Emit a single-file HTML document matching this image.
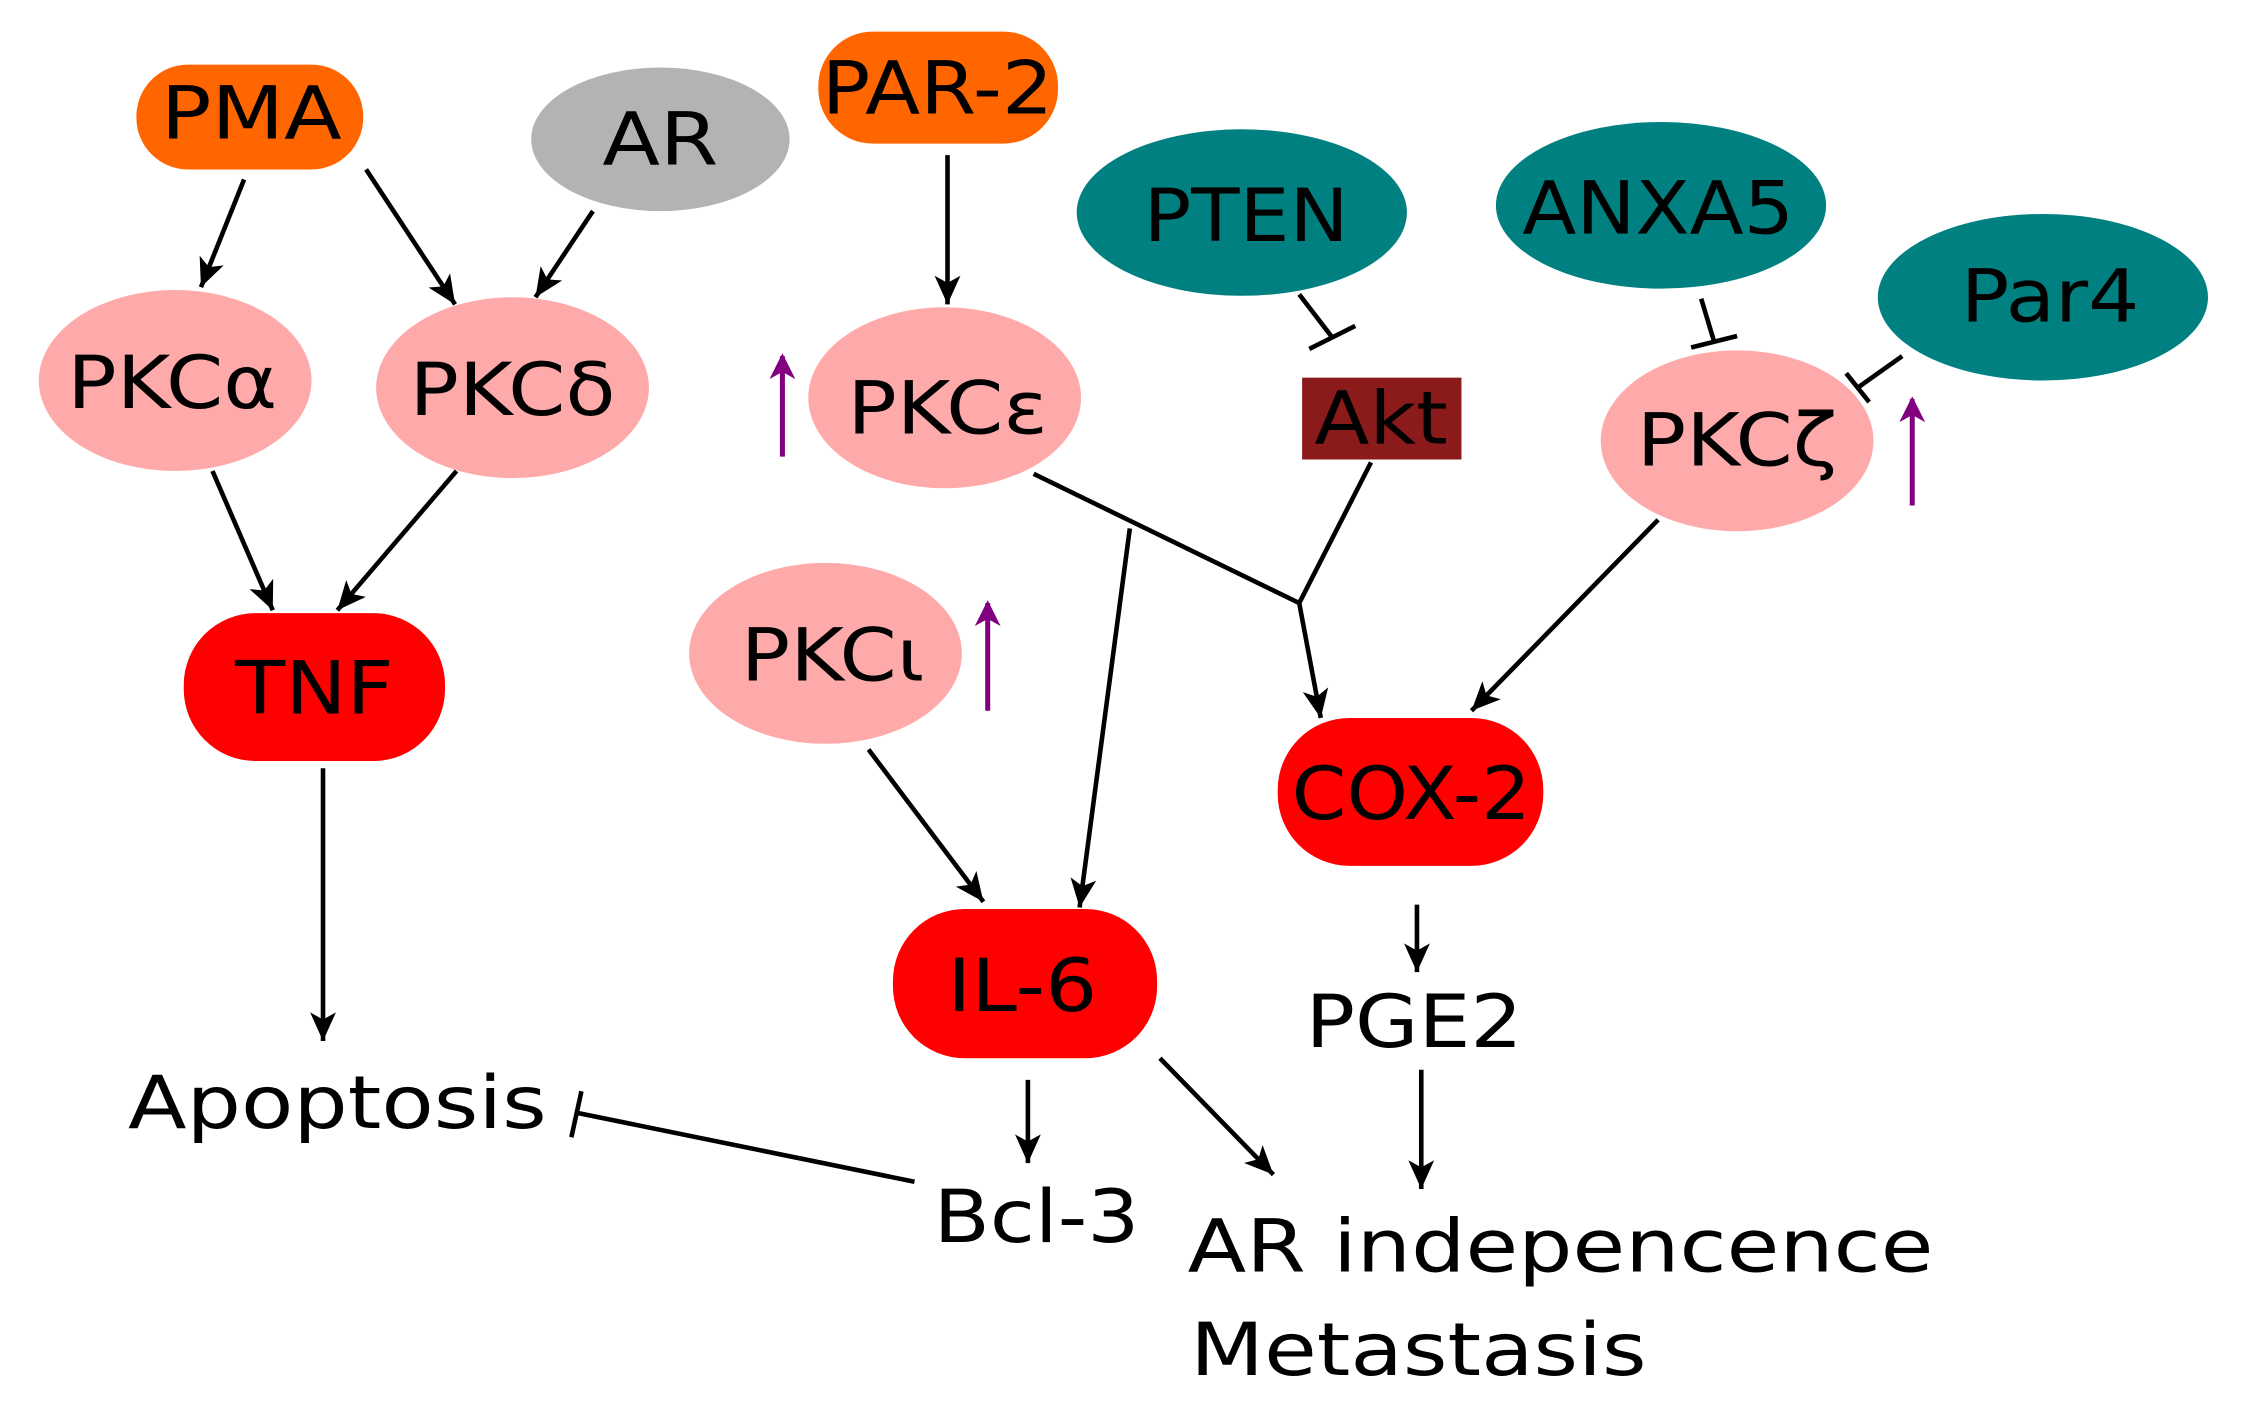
<!DOCTYPE html>
<html><head><meta charset="utf-8"><style>
html,body{margin:0;padding:0;background:#fff;}
svg{display:block;}
text{font-family:"DejaVu Sans","Liberation Sans",sans-serif;fill:#000;text-anchor:middle;dominant-baseline:central;font-size:51px;}
</style></head><body>
<svg width="2241" height="1423" viewBox="0 0 1561 991" preserveAspectRatio="none" xmlns="http://www.w3.org/2000/svg">
<defs>
<marker id="ab" markerWidth="22" markerHeight="22" refX="20" refY="11" orient="auto" markerUnits="userSpaceOnUse" viewBox="0 0 22 22">
<path d="M0,2 L20,11 L0,20 L5,11 z" fill="#000"/></marker>
<marker id="ap" markerWidth="18" markerHeight="22" refX="16" refY="9" orient="auto" markerUnits="userSpaceOnUse" viewBox="0 0 18 18">
<path d="M0,0 L18,9 L0,18 L5,9 z" fill="#800080"/></marker>
</defs>
<g stroke="#000" stroke-width="3.2" fill="none">
<line x1="170" y1="125" x2="140" y2="200" marker-end="url(#ab)"/>
<line x1="255" y1="118" x2="317" y2="212" marker-end="url(#ab)"/>
<line x1="413" y1="147" x2="373" y2="207" marker-end="url(#ab)"/>
<line x1="660" y1="108" x2="660" y2="212" marker-end="url(#ab)"/>
<line x1="148" y1="328" x2="190" y2="425" marker-end="url(#ab)"/>
<line x1="318" y1="328" x2="235" y2="425" marker-end="url(#ab)"/>
<polyline points="720,330 905,420 920,500" marker-end="url(#ab)"/>
<line x1="955" y1="322" x2="905" y2="420"/>
<line x1="787" y1="368" x2="752" y2="632" marker-end="url(#ab)"/>
<line x1="1155" y1="362" x2="1025" y2="495" marker-end="url(#ab)"/>
<line x1="605" y1="522" x2="685" y2="628" marker-end="url(#ab)"/>
<line x1="225" y1="535" x2="225" y2="725" marker-end="url(#ab)"/>
<line x1="987" y1="630" x2="987" y2="677" marker-end="url(#ab)"/>
<line x1="990" y1="745" x2="990" y2="828" marker-end="url(#ab)"/>
<line x1="716" y1="752" x2="716" y2="810" marker-end="url(#ab)"/>
<line x1="808" y1="737" x2="887" y2="818" marker-end="url(#ab)"/>
<line x1="905" y1="205" x2="928" y2="235"/><line x1="912" y1="243" x2="944" y2="227"/>
<line x1="1185" y1="208" x2="1194" y2="238"/><line x1="1178" y1="242" x2="1210" y2="234"/>
<line x1="1325" y1="248" x2="1294" y2="270"/><line x1="1286" y1="260" x2="1302" y2="280"/>
<line x1="637" y1="823" x2="402" y2="775"/><line x1="405" y1="760" x2="398" y2="792"/>
</g>
<g stroke="#800080" stroke-width="3.5">
<line x1="545" y1="318" x2="545" y2="248" marker-end="url(#ap)"/>
<line x1="688" y1="495" x2="688" y2="420" marker-end="url(#ap)"/>
<line x1="1332" y1="352" x2="1332" y2="278" marker-end="url(#ap)"/>
</g>
<rect x="95" y="45" width="158" height="73" rx="36" fill="#ff6600"/>
<ellipse cx="460" cy="97" rx="90" ry="50" fill="#b3b3b3"/>
<rect x="570" y="22" width="167" height="78" rx="38" fill="#ff6600"/>
<ellipse cx="865" cy="148" rx="115" ry="58" fill="#008080"/>
<ellipse cx="1157" cy="143" rx="115" ry="58" fill="#008080"/>
<ellipse cx="1423" cy="207" rx="115" ry="58" fill="#008080"/>
<g fill="#ffaaaa">
<ellipse cx="122" cy="265" rx="95" ry="63"/>
<ellipse cx="357" cy="270" rx="95" ry="63"/>
<ellipse cx="658" cy="277" rx="95" ry="63"/>
<ellipse cx="1210" cy="307" rx="95" ry="63"/>
<ellipse cx="575" cy="455" rx="95" ry="63"/>
</g>
<rect x="907" y="263" width="111" height="57" fill="#8b1a1a"/>
<g fill="#ff0000">
<rect x="128" y="427" width="182" height="103" rx="50"/>
<rect x="890" y="500" width="185" height="103" rx="50"/>
<rect x="622" y="633" width="184" height="104" rx="50"/>
</g>
<text transform="translate(175 79) scale(1.15 1)">PMA</text>
<text transform="translate(460 97) scale(1.15 1)">AR</text>
<text transform="translate(653 62) scale(1.1 1)">PAR-2</text>
<text transform="translate(868 150) scale(1.08 1)">PTEN</text>
<text transform="translate(1155 145) scale(1.08 1)">ANXA5</text>
<text transform="translate(1428 207) scale(1.1 1)">Par4</text>
<text transform="translate(120 267) scale(1.12 1)">PKCα</text>
<text transform="translate(357 272) scale(1.12 1)">PKCδ</text>
<text transform="translate(660 285) scale(1.12 1)">PKCε</text>
<text transform="translate(1210 307) scale(1.12 1)">PKCζ</text>
<text transform="translate(580 457) scale(1.12 1)">PKCι</text>
<text transform="translate(962 292) scale(1.1 1)">Akt</text>
<text transform="translate(219 480) scale(1.12 1)">TNF</text>
<text transform="translate(983 553) scale(1.07 1)">COX-2</text>
<text transform="translate(712 687) scale(1.12 1)">IL-6</text>
<text transform="translate(985 712) scale(1.12 1)">PGE2</text>
<text transform="translate(235 768) scale(1.17 1)">Apoptosis</text>
<text transform="translate(722 848) scale(1.12 1)">Bcl-3</text>
<text transform="translate(1087 868) scale(1.17 1)">AR indepencence</text>
<text transform="translate(988 940) scale(1.17 1)">Metastasis</text>
</svg>
</body></html>
